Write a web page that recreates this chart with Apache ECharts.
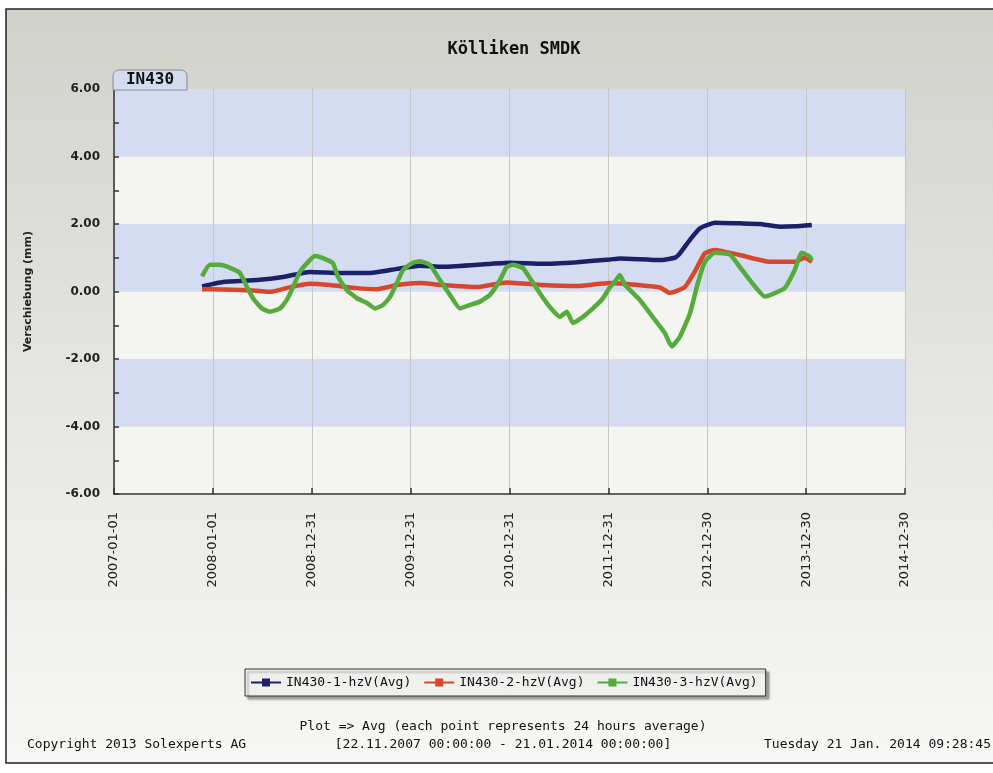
<!DOCTYPE html>
<html>
<head>
<meta charset="utf-8">
<script src="https://cdn.jsdelivr.net/npm/echarts@6/dist/echarts.min.js"></script>
<style>
html,body{margin:0;padding:0;background:#ffffff;}
#chart{width:993px;height:773px;}
</style>
</head>
<body>
<div id="chart"></div>
<script>
// ---- data ----
const chartTitle = 'Kölliken SMDK';
const panelLabel = 'IN430';
const yAxisName = 'Verschiebung (mm)';
const seriesNames = ['IN430-1-hzV(Avg)', 'IN430-2-hzV(Avg)', 'IN430-3-hzV(Avg)'];
const xStartDate = '2007-01-01';
const xTickLabels = ['2007-01-01','2008-01-01','2008-12-31','2009-12-31','2010-12-31','2011-12-31','2012-12-30','2013-12-30','2014-12-30'];
const yTicks = [-6, -4, -2, 0, 2, 4, 6];

const series1 = [
  ['2007-11-22',0.15],['2008-02-07',0.28],['2008-06-12',0.34],['2008-09-16',0.43],['2008-12-24',0.58],
  ['2009-04-14',0.55],['2009-08-03',0.55],['2009-11-10',0.67],['2010-02-03',0.76],['2010-04-29',0.73],
  ['2010-09-02',0.79],['2011-01-01',0.85],['2011-05-03',0.82],['2011-09-06',0.87],['2012-01-06',0.95],
  ['2012-02-11',0.98],['2012-07-08',0.93],['2012-09-01',1.00],['2012-09-20',1.13],['2012-10-27',1.53],
  ['2012-12-03',1.87],['2013-01-27',2.04],['2013-04-29',2.02],['2013-07-12',2.00],['2013-09-24',1.92],
  ['2013-11-18',1.93],['2014-01-20',1.97]
];
const series2 = [
  ['2007-11-22',0.07],['2008-02-07',0.06],['2008-06-12',0.02],['2008-07-30',-0.01],['2008-10-12',0.13],
  ['2008-12-24',0.23],['2009-03-08',0.19],['2009-06-16',0.10],['2009-08-29',0.07],['2009-11-10',0.19],
  ['2010-02-03',0.25],['2010-04-29',0.19],['2010-09-02',0.13],['2010-12-21',0.27],['2011-05-03',0.19],
  ['2011-09-06',0.16],['2012-01-06',0.25],['2012-02-11',0.24],['2012-07-08',0.12],['2012-08-14',-0.04],
  ['2012-10-08',0.13],['2012-11-14',0.59],['2012-12-21',1.13],['2013-01-27',1.23],['2013-04-29',1.08],
  ['2013-08-18',0.88],['2013-11-18',0.88],['2013-12-25',1.00],['2014-01-20',0.88]
];
const series3 = [
  ['2007-11-22',0.45],['2007-12-21',0.79],['2008-01-27',0.79],['2008-03-04',0.70],['2008-04-10',0.55],
  ['2008-05-06',0.13],['2008-05-28',-0.20],['2008-06-30',-0.50],['2008-07-30',-0.60],['2008-09-05',-0.50],
  ['2008-09-30',-0.25],['2008-10-23',0.13],['2008-11-17',0.58],['2008-12-24',0.93],['2009-01-12',1.05],
  ['2009-02-10',0.99],['2009-03-19',0.84],['2009-04-07',0.43],['2009-05-10',0.04],['2009-06-16',-0.20],
  ['2009-07-23',-0.34],['2009-08-21',-0.50],['2009-09-20',-0.40],['2009-10-16',-0.16],['2009-11-10',0.25],
  ['2009-12-03',0.64],['2010-01-05',0.84],['2010-02-03',0.90],['2010-03-12',0.79],['2010-04-18',0.34],
  ['2010-05-25',-0.10],['2010-07-01',-0.50],['2010-08-07',-0.40],['2010-09-13',-0.30],['2010-10-20',-0.10],
  ['2010-11-26',0.34],['2010-12-21',0.73],['2011-01-13',0.79],['2011-02-18',0.70],['2011-03-16',0.40],
  ['2011-04-22',-0.05],['2011-05-29',-0.46],['2011-07-05',-0.75],['2011-07-31',-0.60],['2011-08-22',-0.93],
  ['2011-09-28',-0.75],['2011-11-04',-0.50],['2011-12-11',-0.20],['2012-01-06',0.13],['2012-01-24',0.29],
  ['2012-02-11',0.49],['2012-03-01',0.20],['2012-04-25',-0.25],['2012-06-20',-0.84],['2012-07-27',-1.24],
  ['2012-08-21',-1.63],['2012-09-20',-1.34],['2012-10-27',-0.65],['2012-11-25',0.24],['2012-12-21',0.88],
  ['2013-01-27',1.15],['2013-03-23',1.10],['2013-04-29',0.73],['2013-06-05',0.34],['2013-07-31',-0.15],
  ['2013-09-05',-0.05],['2013-10-12',0.10],['2013-11-18',0.64],['2013-12-14',1.15],['2014-01-13',1.03],
  ['2014-01-20',0.92]
];
const footerLeft = 'Copyright 2013 Solexperts AG';
const footerCenter1 = 'Plot => Avg (each point represents 24 hours average)';
const footerCenter2 = '[22.11.2007 00:00:00 - 21.01.2014 00:00:00]';
const footerRight = 'Tuesday 21 Jan. 2014 09:28:45';

// ---- helpers ----
const DAY = 86400000;
const t0 = Date.parse(xStartDate);
const toDays = arr => arr.map(p => [(Date.parse(p[0]) - t0) / DAY, p[1]]);
const X_INTERVAL = 365;
const X_MAX = X_INTERVAL * (xTickLabels.length - 1);

const colors = ['#1a2168', '#d8472b', '#55ab3b'];
const mono = '"DejaVu Sans Mono", "Liberation Mono", monospace';

const chart = echarts.init(document.getElementById('chart'), null, {renderer: 'canvas'});

const mkSeries = (name, data, color) => ({
  name: name,
  type: 'line',
  data: toDays(data),
  symbol: 'rect',
  symbolSize: 9,
  showSymbol: false,
  smooth: 0.15,
  lineStyle: {color: color, width: 4.5},
  itemStyle: {color: color},
  z: 3
});

chart.setOption({
  animation: false,
  color: colors,
  title: {
    text: chartTitle,
    left: 509,
    top: 36,
    textAlign: 'center',
    textStyle: {fontFamily: mono, fontWeight: 'bold', fontSize: 17, color: '#111'}
  },
  grid: {left: 114, right: 88, top: 89, bottom: 279, containLabel: false},
  legend: {
    left: 245,
    top: 669,
    orient: 'horizontal',
    padding: [7, 8, 7, 5],
    itemWidth: 30,
    itemHeight: 10,
    itemGap: 12,
    backgroundColor: '#efefed',
    borderColor: '#333',
    borderWidth: 1,
    shadowColor: 'rgba(0,0,0,0.35)',
    shadowBlur: 2,
    shadowOffsetX: 3,
    shadowOffsetY: 3,
    textStyle: {fontFamily: mono, fontSize: 13, color: '#111'},
    data: seriesNames
  },
  xAxis: {
    type: 'value',
    min: 0,
    max: X_MAX,
    interval: X_INTERVAL,
    axisLine: {show: true, onZero: false, lineStyle: {color: '#333', width: 1.5}},
    axisTick: {show: true, inside: true, length: 6, lineStyle: {color: '#333', width: 1.5}},
    axisLabel: {
      rotate: 90,
      margin: 18,
      fontFamily: '"DejaVu Sans", sans-serif',
      fontSize: 13,
      color: '#222',
      formatter: v => xTickLabels[Math.round(v / X_INTERVAL)] || ''
    },
    splitLine: {show: true, lineStyle: {color: '#c6c6c6', width: 1}}
  },
  yAxis: {
    type: 'value',
    min: yTicks[0],
    max: yTicks[yTicks.length - 1],
    interval: 2,
    name: yAxisName,
    nameLocation: 'middle',
    nameGap: 80,
    nameRotate: 90,
    nameTextStyle: {fontFamily: '"DejaVu Sans", sans-serif', fontWeight: 'bold', fontSize: 11, color: '#222'},
    axisLine: {show: true, onZero: false, lineStyle: {color: '#333', width: 1.5}},
    axisTick: {show: true, inside: true, length: 5, lineStyle: {color: '#333', width: 1.5}},
    minorTick: {show: true, splitNumber: 2, length: 5, lineStyle: {color: '#333', width: 1.5}},
    axisLabel: {
      margin: 14,
      fontFamily: '"DejaVu Sans", sans-serif',
      fontWeight: 'bold',
      fontSize: 12,
      color: '#222',
      formatter: v => v.toFixed(2)
    },
    splitLine: {show: false},
    splitArea: {show: true, areaStyle: {color: ['#f4f4f0', '#d3dcf0']}}
  },
  graphic: [
    {
      type: 'rect', z: -10, silent: true,
      shape: {x: 6, y: 9, width: 1000, height: 754},
      style: {
        fill: new echarts.graphic.LinearGradient(0, 0, 0, 1, [
          {offset: 0, color: '#d1d1cc'},
          {offset: 0.45, color: '#e3e3df'},
          {offset: 1, color: '#f7f7f5'}
        ]),
        stroke: '#222', lineWidth: 1.5
      }
    },
    {
      type: 'rect', z: 10, silent: true,
      shape: {x: 113, y: 70, width: 74, height: 20, r: [6, 6, 0, 0]},
      style: {fill: '#d3dbee', stroke: '#8a8a8a', lineWidth: 1}
    },
    {
      type: 'text', z: 11, silent: true,
      x: 150, y: 80,
      style: {text: panelLabel, font: 'bold 16px ' + mono, fill: '#111', textAlign: 'center', textVerticalAlign: 'middle'}
    },
    {
      type: 'text', silent: true,
      x: 503, y: 727,
      style: {text: footerCenter1, font: '13px ' + mono, fill: '#111', textAlign: 'center', textVerticalAlign: 'middle'}
    },
    {
      type: 'text', silent: true,
      x: 503, y: 745,
      style: {text: footerCenter2, font: '13px ' + mono, fill: '#111', textAlign: 'center', textVerticalAlign: 'middle'}
    },
    {
      type: 'text', silent: true,
      x: 27, y: 745,
      style: {text: footerLeft, font: '13px ' + mono, fill: '#111', textAlign: 'left', textVerticalAlign: 'middle'}
    },
    {
      type: 'text', silent: true,
      x: 991, y: 745,
      style: {text: footerRight, font: '13px ' + mono, fill: '#111', textAlign: 'right', textVerticalAlign: 'middle'}
    }
  ],
  series: [
    mkSeries(seriesNames[0], series1, colors[0]),
    mkSeries(seriesNames[1], series2, colors[1]),
    mkSeries(seriesNames[2], series3, colors[2])
  ]
});
</script>
</body>
</html>
